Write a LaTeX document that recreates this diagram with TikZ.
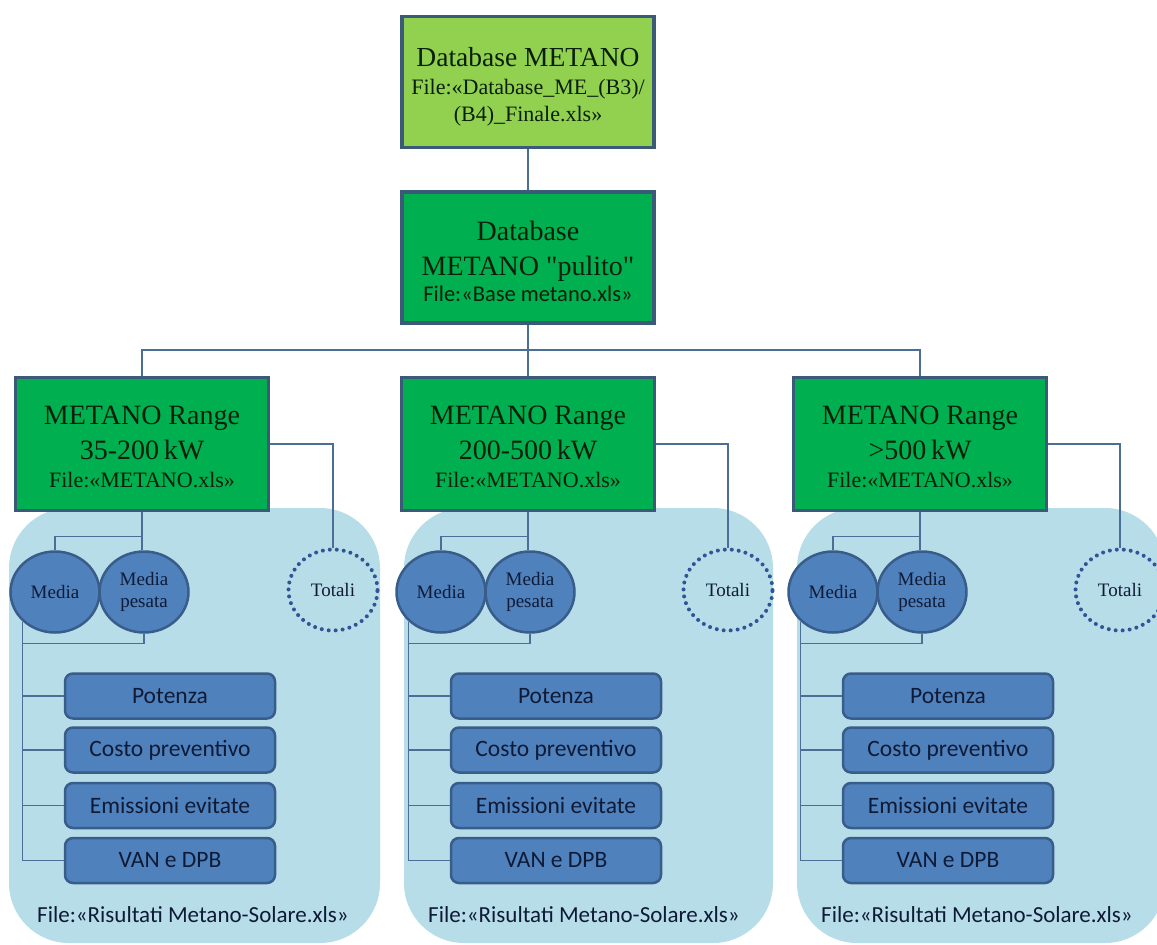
\documentclass[tikz,border=0pt]{standalone}
\usepackage{fontspec}
\setmainfont{Liberation Serif}
\newfontfamily\carl{Carlito}
\usetikzlibrary{shapes.geometric,calc}
\definecolor{lgreen}{HTML}{92D050}
\definecolor{dgreen}{HTML}{00B050}
\definecolor{bordc}{HTML}{3B5A78}
\definecolor{panelc}{HTML}{B7DDE8}
\definecolor{bluef}{HTML}{4F81BD}
\definecolor{blueb}{HTML}{385D8A}
\definecolor{linec}{HTML}{4A6F96}
\definecolor{dotc}{HTML}{2F5597}
\definecolor{txtd}{HTML}{0F1B36}
\definecolor{txtg}{HTML}{0A1F0A}
\begin{document}
\begin{tikzpicture}[x=1pt,y=-1pt,
  greenbox/.style={draw=bordc, line width=3.5pt, minimum width=252pt, minimum height=131pt, align=center, inner sep=0pt, text=txtg},
  rangebox/.style={greenbox, fill=dgreen, minimum width=253pt, minimum height=133pt, font=\fontsize{28}{35}\selectfont},
  ellbox/.style={ellipse, draw=blueb, fill=bluef, line width=2.5pt, minimum width=89pt, minimum height=81pt, inner sep=0pt, align=center, text=txtd, font=\fontsize{19}{22}\selectfont},
  totbox/.style={ellipse, draw=dotc, line width=4pt, dash pattern=on 0pt off 7pt, line cap=round, minimum width=89pt, minimum height=81pt, inner sep=0pt, text=txtd, font=\fontsize{19}{22}\selectfont},
  resbox/.style={rounded corners=8pt, draw=blueb, fill=bluef, line width=2.5pt, minimum width=210pt, minimum height=45pt, inner sep=0pt, text=txtd, font=\carl\fontsize{23.5}{26}\selectfont},
  foot/.style={inner sep=0pt, text=txtd, font=\carl\fontsize{23}{26}\selectfont},
  conn/.style={draw=linec, line width=1.2pt}]
\useasboundingbox (0,0) rectangle (1157,945);
\fill[white] (0,0) rectangle (1157,945);

\node[greenbox, fill=lgreen, font=\fontsize{22}{27}\selectfont] (db) at (528,82)
  {{\fontsize{27.5}{27}\selectfont\rule{0pt}{28pt}Database METANO}\\[1pt]
   File:«Database\_ME\_(B3)/\\
   (B4)\_Finale.xls»};
\node[greenbox, fill=dgreen, font=\fontsize{28}{35}\selectfont] (pul) at (528,257.5)
  {\rule{0pt}{28pt}Database\\
   METANO \textquotedbl pulito\textquotedbl\\[-9pt]
   {\carl\fontsize{22.5}{29}\selectfont File:«Base metano.xls»}};

\draw[conn] (db) -- (pul);
\coordinate (j) at (528,350);

\foreach \i/\dx/\tx/\fx/\pa/\pb/\rt in
  {1/0/333/193/9/380/35-200, 2/386/728/584/404/773/200-500, 3/778/1120/977/797/1165/>500} {
  \fill[panelc, rounded corners=60pt] (\pa,508) rectangle (\pb,943);
  \node[rangebox] (r\i) at (142+\dx,444)
    {\rule{0pt}{24.5pt}METANO Range\\
     \rt\,kW\\[-7pt]
     {\fontsize{22}{30}\selectfont File:«METANO.xls»}};
  \node[ellbox] (m\i) at (55+\dx,592) {Media};
  \node[ellbox] (mp\i) at (144+\dx,592) {Media\\pesata};
  \node[totbox] (t\i) at (\tx,590) {Totali};
  \node[resbox] (ba\i) at (170+\dx,696) {Potenza};
  \node[resbox] (bb\i) at (170+\dx,750) {Costo preventivo};
  \node[resbox] (bc\i) at (170+\dx,805.5) {Emissioni evitate};
  \node[resbox] (bd\i) at (170+\dx,860.5) {VAN e DPB};
  \node[foot] (f\i) at (\fx,915) {File:«Risultati Metano-Solare.xls»};
  % connectors
  \draw[conn] (r\i.south) -- (r\i.south |- mp\i.north);
  \draw[conn] (m\i.north) |- ($(r\i.south)+(0,24)$);
  \draw[conn] (r\i.east) -| (t\i.north);
  \draw[conn] (mp\i.south) |- ($(m\i.south west |- mp\i.south)+(0,10)$);
  \draw[conn] (m\i.south west) -- (m\i.south west |- bd\i.west) -- (bd\i.west);
  \draw[conn] (m\i.south west |- ba\i.west) -- (ba\i.west);
  \draw[conn] (m\i.south west |- bb\i.west) -- (bb\i.west);
  \draw[conn] (m\i.south west |- bc\i.west) -- (bc\i.west);
}
\draw[conn] (pul.south) -- (r2.north);
\draw[conn] (r1.north) |- (j) -| (r3.north);
\end{tikzpicture}
\end{document}
